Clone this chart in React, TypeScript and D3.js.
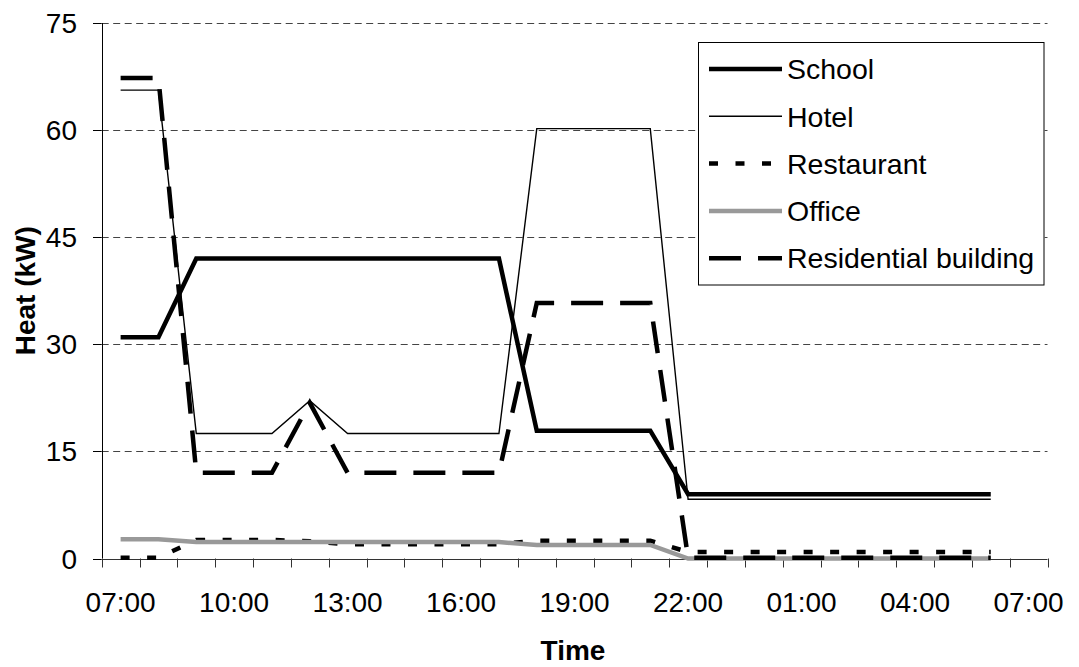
import React from "react";
import * as d3 from "d3";

const categories = [
  "07:00","08:00","09:00","10:00","11:00","12:00","13:00","14:00","15:00","16:00",
  "17:00","18:00","19:00","20:00","21:00","22:00","23:00","00:00","01:00","02:00",
  "03:00","04:00","05:00","06:00","07:00",
];
const tickEvery = 3;
const yTicks = [0, 15, 30, 45, 60, 75];

const school = [31,31,42,42,42,42,42,42,42,42,42,17.9,17.9,17.9,17.9,9,9,9,9,9,9,9,9,9];
const hotel = [65.6,65.6,17.5,17.5,17.5,22.1,17.5,17.5,17.5,17.5,17.5,60.2,60.2,60.2,60.2,8.3,8.3,8.3,8.3,8.3,8.3,8.3,8.3,8.3];
const restaurant = [0.1,0.1,2.6,2.6,2.6,2.4,2.0,2.0,2.0,2.0,2.0,2.5,2.5,2.5,2.5,0.9,0.9,0.9,0.9,0.9,0.9,0.9,0.9,0.9];
const office = [2.7,2.7,2.3,2.3,2.3,2.3,2.3,2.3,2.3,2.3,2.3,1.9,1.9,1.9,1.9,0,0,0,0,0,0,0,0,0];
const residential = [67.3,67.3,12,12,12,21.8,12,12,12,12,12,35.8,35.8,35.8,35.8,0.1,0.1,0.1,0.1,0.1,0.1,0.1,0.1,0.1];

const seriesNames = ["School", "Hotel", "Restaurant", "Office", "Residential building"];
const seriesValues = [school, hotel, restaurant, office, residential];
const seriesStyles = [
  { stroke: "#000", width: 4.5, dash: "none" },
  { stroke: "#000", width: 1.4, dash: "none" },
  { stroke: "#000", width: 4.5, dash: "9,17.5" },
  { stroke: "#999", width: 4.5, dash: "none" },
  { stroke: "#000", width: 4.5, dash: "32,17" },
];

const W = 1079, H = 667;
const left = 101.7, right = 1047.5, top = 23, bottom = 558.5;
const FONT = "'Liberation Sans', Arial, sans-serif";

export default function App() {
  const x = d3.scaleBand<number>().domain(d3.range(categories.length)).range([left, right]).padding(0);
  const y = d3.scaleLinear().domain([0, 75]).range([bottom, top]);
  const cx = (i: number) => (x(i) as number) + x.bandwidth() / 2;
  const line = d3.line<number>().x((_, i) => cx(i)).y((v) => y(v));
  const boundaries = d3.range(categories.length + 1).map((i) => left + i * x.bandwidth());

  const legendX = 698.5, legendY = 42.5, legendW = 345.5, legendH = 242.5;
  const legendRowY = (i: number) => 69 + i * 47.3;

  return (
    <svg width={W} height={H} style={{ position: "absolute", left: 0, top: 0, background: "#fff" }} fontFamily={FONT}>
      <rect width={W} height={H} fill="#fff" />
      {/* gridlines */}
      {yTicks.filter((t) => t > 0).map((t) => (
        <line key={"g" + t} x1={left} x2={right} y1={Math.round(y(t)) + 0.5} y2={Math.round(y(t)) + 0.5}
          stroke="#444" strokeWidth={1} strokeDasharray="7,4.5" />
      ))}
      {/* y ticks & labels */}
      {yTicks.map((t) => (
        <g key={"y" + t}>
          <line x1={93} x2={left} y1={Math.round(y(t)) + 0.5} y2={Math.round(y(t)) + 0.5} stroke="#000" strokeWidth={1} />
          <text x={77} y={y(t)} dy="0.36em" textAnchor="end" fontSize={28} fill="#000">{t}</text>
        </g>
      ))}
      {/* axes */}
      <line x1={Math.round(left) + 0.5} x2={Math.round(left) + 0.5} y1={top} y2={bottom} stroke="#000" strokeWidth={1} />
      <line x1={left} x2={right} y1={Math.round(bottom) + 0.5} y2={Math.round(bottom) + 0.5} stroke="#333" strokeWidth={1} />
      {boundaries.map((b, i) => (
        <line key={"xt" + i} x1={Math.round(b) + 0.5} x2={Math.round(b) + 0.5} y1={bottom} y2={bottom + 9} stroke="#333" strokeWidth={1} />
      ))}
      {categories.map((c, i) => i % tickEvery === 0 ? (
        <text key={"xl" + i} x={cx(i)} y={611.5} textAnchor="middle" fontSize={28} fill="#000">{c}</text>
      ) : null)}
      {/* series */}
      {seriesValues.map((vals, k) => (
        <path key={"s" + k} d={line(vals) || ""} fill="none" stroke={seriesStyles[k].stroke}
          strokeWidth={seriesStyles[k].width} strokeDasharray={seriesStyles[k].dash} strokeLinejoin="miter" />
      ))}
      {/* legend */}
      <rect x={legendX} y={legendY} width={legendW} height={legendH} fill="#fff" stroke="#000" strokeWidth={1} />
      {seriesNames.map((n, k) => (
        <g key={"l" + k}>
          <line x1={709} x2={782} y1={legendRowY(k)} y2={legendRowY(k)} stroke={seriesStyles[k].stroke}
            strokeWidth={seriesStyles[k].width} strokeDasharray={seriesStyles[k].dash} />
          <text x={787} y={legendRowY(k)} dy="0.36em" fontSize={28.5} fill="#000">{n}</text>
        </g>
      ))}
      {/* axis titles */}
      <text x={573} y={660} textAnchor="middle" fontSize={28} fontWeight="bold" fill="#000">Time</text>
      <text transform={`translate(35,${(top + bottom) / 2}) rotate(-90)`} textAnchor="middle" fontSize={28} fontWeight="bold" fill="#000">Heat (kW)</text>
    </svg>
  );
}
